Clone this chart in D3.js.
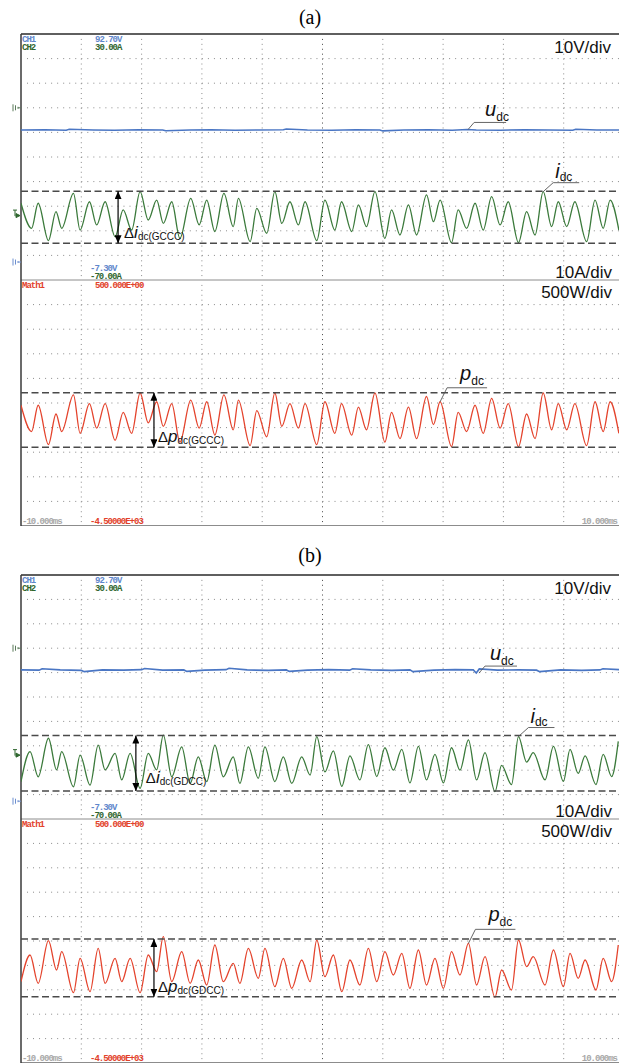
<!DOCTYPE html>
<html>
<head>
<meta charset="utf-8">
<script src="https://cdn.jsdelivr.net/npm/d3@7"></script>
<style>
body { margin: 0; background: #fff; }
svg { display: block; }
.scope { font-family: "Liberation Mono", "DejaVu Sans Mono", monospace; font-size: 9px; letter-spacing: -1px; font-weight: bold; }
.lbl { font-family: "Liberation Sans", Arial, sans-serif; }
</style>
</head>
<body>
<div id="chart"></div>
<script>
// screen ranges of the scope
var tDomain = [-10, 10];        // ms
var vDomain = [-7.3, 92.7];     // CH1, V
var iDomain = [-70, 30];        // CH2, A
var pDomain = [-4500, 500];     // Math1, W

var ch1Range = ["92.70V", "-7.30V"];
var ch2Range = ["30.00A", "-70.00A"];
var mathRange = ["500.000E+00", "-4.50000E+03"];
var timeRange = ["-10.000ms", "10.000ms"];
var divLabels = ["10V/div", "10A/div", "500W/div"];

// (a) GCCC : peaks / troughs
var timeA = [-10.00, -9.65, -9.43, -9.09, -8.84, -8.65, -8.26, -8.04, -7.73, -7.49, -7.21, -6.88, -6.61, -6.33, -6.05, -5.78, -5.50, -5.28, -5.00, -4.73, -4.37, -4.09, -3.84, -3.57, -3.27, -2.96, -2.79, -2.40, -2.18, -1.85, -1.58, -1.35, -1.08, -0.80, -0.58,
  -0.19, 0.08, 0.41, 0.63, 0.97, 1.19, 1.46, 1.74, 2.07, 2.29, 2.57, 2.85, 3.12, 3.45, 3.68, 3.90, 4.28, 4.50, 4.78, 5.06, 5.33, 5.61, 5.89, 6.16, 6.50, 6.77, 7.05, 7.32, 7.60, 7.82, 8.10, 8.37, 8.76, 9.04, 9.31, 9.54, 9.83];
var currentA = [-38.8, -49.0, -38.8, -54.0, -42.2, -49.0, -34.8, -49.7, -38.2, -47.6, -38.2, -52.4, -41.5, -49.7, -34.1, -45.6, -37.5, -47.0, -38.2, -53.1, -36.8, -47.6, -37.5, -50.3, -34.8, -48.3, -36.8, -54.4, -40.9, -51.0, -34.1, -47.0, -38.2, -47.6, -38.2,
  -54.0, -37.5, -49.7, -38.2, -50.3, -39.5, -48.3, -34.1, -53.1, -41.5, -51.7, -39.5, -51.7, -35.4, -46.3, -37.5, -54.8, -41.5, -49.0, -38.8, -49.7, -36.1, -47.6, -38.2, -54.8, -42.2, -51.7, -34.1, -48.3, -38.2, -48.3, -38.2, -54.4, -37.5, -49.0, -37.5, -49.7];
var powerA = [-2046, -2580, -2046, -2844, -2224, -2580, -1833, -2616, -2011, -2509, -2011, -2758, -2189, -2616, -1797, -2402, -1975, -2474, -2011, -2794, -1940, -2509, -1975, -2652, -1833, -2545, -1940, -2865, -2153, -2687, -1797, -2474, -2011, -2509, -2011,
  -2844, -1975, -2616, -2011, -2652, -2082, -2545, -1797, -2794, -2189, -2723, -2082, -2723, -1868, -2438, -1975, -2886, -2189, -2580, -2046, -2616, -1904, -2509, -2011, -2886, -2224, -2723, -1797, -2545, -2011, -2545, -2011, -2865, -1975, -2580, -1975, -2616];
var voltTimeA = [-10, -9.2, -8.5, -8.4, -7.6, -6.9, -6.1, -5.3, -5.2, -4.4, -3.7, -2.9, -2.1, -1.3, -1.2, -0.5, 0.3, 1.1, 1.9, 2.0, 2.7, 3.5, 4.3, 4.8, 5.1, 5.9, 6.7, 7.5, 8.3, 8.4, 9.1, 10];
var voltA = [53.7, 53.8, 53.6, 54.0, 53.7, 53.6, 53.8, 53.7, 53.4, 53.7, 53.8, 53.6, 53.7, 53.8, 54.1, 53.7, 53.6, 53.8, 53.7, 53.3, 53.7, 53.8, 53.6, 53.9, 53.7, 53.6, 53.8, 53.7, 53.6, 54.0, 53.7, 53.7];
var iBandA = [-33.9, -55.1];
var pBandA = [-1790, -2900];

// (b) GDCC
var timeB = [-10.00, -9.70, -9.43, -9.09, -8.82, -8.65, -8.26, -8.04, -7.71, -7.44, -7.21, -6.88, -6.66, -6.38, -6.05, -5.78, -5.50, -5.28, -5.00, -4.67, -4.39, -4.12, -3.84, -3.57, -3.29, -2.96, -2.74, -2.46, -2.13, -1.91, -1.58, -1.30, -1.02, -0.69, -0.41,
  -0.19, 0.08, 0.36, 0.64, 0.91, 1.24, 1.52, 1.80, 2.07, 2.35, 2.63, 2.90, 3.18, 3.45, 3.73, 4.01, 4.28, 4.56, 4.84, 5.11, 5.39, 5.72, 5.94, 6.27, 6.50, 6.77, 6.99, 7.38, 7.66, 7.99, 8.21, 8.48, 8.71, 9.07, 9.31, 9.59, 9.81];
var currentB = [-54.7, -42.4, -52.7, -36.9, -49.9, -42.4, -56.8, -43.8, -56.1, -39.7, -49.9, -43.1, -54.0, -43.1, -57.4, -43.1, -49.9, -35.6, -52.7, -40.4, -55.4, -44.5, -54.7, -39.7, -52.7, -44.5, -55.4, -40.4, -53.3, -40.4, -54.7, -44.5, -55.4, -44.5, -52.0,
  -36.2, -50.7, -42.1, -56.6, -44.1, -54.0, -39.5, -52.6, -40.8, -50.0, -41.5, -55.2, -40.2, -54.0, -43.5, -55.2, -40.8, -50.0, -37.6, -54.0, -42.8, -58.8, -48.0, -55.9, -36.2, -46.7, -42.8, -54.0, -40.2, -54.6, -41.5, -51.3, -44.1, -55.9, -43.5, -52.6, -38.2];
var powerB = [-2833, -2287, -2867, -1993, -2594, -2219, -3059, -2355, -3038, -2150, -2867, -2355, -2833, -2355, -3059, -2287, -2628, -1911, -2833, -2219, -2867, -2389, -2902, -2082, -2833, -2458, -2867, -2150, -2765, -2150, -2936, -2355, -2970, -2389, -2833,
  -1980, -2731, -2287, -3038, -2389, -2902, -2150, -2833, -2219, -2697, -2253, -2970, -2184, -2902, -2355, -2970, -2219, -2697, -2048, -2902, -2321, -3154, -2594, -3004, -1980, -2526, -2321, -2902, -2184, -2936, -2253, -2765, -2389, -3004, -2355, -2833, -2082];
var voltTimeB = [-10, -9.4, -9.3, -8.7, -8.0, -7.9, -7.3, -6.6, -6.0, -5.9, -5.3, -4.6, -4.5, -3.9, -3.2, -3.1, -2.5, -1.8, -1.2, -1.1, -0.5, 0.2, 0.9, 1.0, 1.6, 2.3, 2.9, 3.0, 3.7, 4.4, 5.0, 5.1, 5.2, 5.8, 6.5, 7.1, 7.2, 7.9, 8.6, 9.2, 9.3, 10];
var voltB = [53.8, 53.7, 54.3, 53.8, 53.6, 53.1, 53.8, 53.7, 53.9, 54.4, 53.7, 53.8, 53.2, 53.7, 53.9, 54.5, 53.8, 53.6, 53.8, 53.2, 53.7, 53.9, 53.7, 54.3, 53.8, 53.6, 53.8, 53.1, 53.7, 53.9, 53.8, 52.5, 54.2, 53.7, 53.8, 53.7, 53.1, 53.8, 53.6, 53.8, 54.3, 53.8];
var iBandB = [-35.8, -58.5];
var pBandB = [-1959, -3141];

var triggerLevel = -42.8;

var W = 619, H = 1063;
var svg = d3.select("#chart").append("svg").attr("width", W).attr("height", H);
svg.append("rect").attr("width", W).attr("height", H).attr("fill", "#fff");

var x = d3.scaleLinear().domain(tDomain).range([21, 624]);

var defs = svg.append("defs");
defs.append("marker")
    .attr("id", "head")
    .attr("markerUnits", "userSpaceOnUse")
    .attr("markerWidth", 8).attr("markerHeight", 7)
    .attr("refX", 8).attr("refY", 3.5)
    .attr("orient", "auto-start-reverse")
  .append("path").attr("d", "M0,0L8,3.5L0,7z").attr("fill", "#000");

drawPanel({
  id: "a", title: "(a)", titleY: 24, top: 34, sep: 280, bottom: 526,
  time: timeA, cur: currentA, pow: powerA, vt: voltTimeA, v: voltA,
  iBand: iBandA, pBand: pBandA, tag: "GCCC",
  uAt: 4.83, iAt: 7.32, pAt: 3.90, diAt: -6.78, dpAt: -5.59,
  diOff: [6, -5], dpOff: [4, -5], uTx: 11
});
drawPanel({
  id: "b", title: "(b)", titleY: 562, top: 575, sep: 819, bottom: 1063,
  time: timeB, cur: currentB, pow: powerB, vt: voltTimeB, v: voltB,
  iBand: iBandB, pBand: pBandB, tag: "GDCC",
  uAt: 5.19, iAt: 6.50, pAt: 4.84, diAt: -6.19, dpAt: -5.59,
  diOff: [10, -8], dpOff: [4, -5], uTx: 5
});

function drawPanel(P) {
  var yU = d3.scaleLinear().domain(vDomain).range([P.sep, P.top]);
  var yI = d3.scaleLinear().domain(iDomain).range([P.sep, P.top]);
  var yP = d3.scaleLinear().domain(pDomain).range([P.bottom, P.sep]);

  var g = svg.append("g");

  g.append("text").attr("x", 310).attr("y", P.titleY)
    .attr("text-anchor", "middle")
    .attr("font-family", "Liberation Serif, Times New Roman, serif")
    .attr("font-size", 20).text(P.title);

  // dotted graticule
  var xs = x.ticks(10).filter(function(d) { return d > tDomain[0]; });
  [[P.top, P.sep], [P.sep, P.bottom]].forEach(function(z) {
    var step = (z[1] - z[0]) / 50;
    g.append("g").selectAll("line").data(xs).enter().append("line")
      .attr("x1", function(d) { return x(d); }).attr("x2", function(d) { return x(d); })
      .attr("y1", z[0] + step).attr("y2", z[1])
      .attr("stroke", function(d) { return d === 0 ? "#444" : "#8a8a8a"; })
      .attr("stroke-width", 1)
      .attr("stroke-dasharray", "1," + (step - 1));
  });
  var hU = d3.range(1, 10).map(function(k) { return yU(vDomain[0] + 10 * k); });
  var hP = d3.range(1, 10).map(function(k) { return yP(pDomain[0] + 500 * k); });
  g.append("g").selectAll("line").data(hU.concat(hP)).enter().append("line")
    .attr("x1", x(tDomain[0]) + 6).attr("x2", W)
    .attr("y1", function(d) { return d; }).attr("y2", function(d) { return d; })
    .attr("stroke", "#8a8a8a")
    .attr("stroke-dasharray", "1," + ((x(-8) - x(-10)) / 10 - 1));

  // frame
  g.append("line").attr("x1", x(-10)).attr("x2", W).attr("y1", P.top).attr("y2", P.top)
    .attr("stroke", "#2a2a2a").attr("stroke-width", 1.5);
  g.append("line").attr("x1", x(-10)).attr("x2", W).attr("y1", P.sep).attr("y2", P.sep)
    .attr("stroke", "#8c8c8c").attr("stroke-width", 1);
  g.append("line").attr("x1", x(-10)).attr("x2", W).attr("y1", P.bottom - 0.5).attr("y2", P.bottom - 0.5)
    .attr("stroke", "#8c8c8c").attr("stroke-width", 1);
  g.append("line").attr("x1", x(-10)).attr("x2", x(-10)).attr("y1", P.top).attr("y2", P.bottom)
    .attr("stroke", "#3a3a3a").attr("stroke-width", 1.5);

  // readouts
  var ro = g.append("g").attr("class", "scope");
  ro.append("text").attr("x", 22).attr("y", P.top + 8).attr("fill", "#5f87cc").text("CH1");
  ro.append("text").attr("x", 22).attr("y", P.top + 16).attr("fill", "#2f662f").text("CH2");
  ro.append("text").attr("x", 95).attr("y", P.top + 8).attr("fill", "#5f87cc").text(ch1Range[0]);
  ro.append("text").attr("x", 95).attr("y", P.top + 16).attr("fill", "#2f662f").text(ch2Range[0]);
  ro.append("text").attr("x", 90).attr("y", P.sep - 9).attr("fill", "#5f87cc").text(ch1Range[1]);
  ro.append("text").attr("x", 90).attr("y", P.sep - 1).attr("fill", "#2f662f").text(ch2Range[1]);
  ro.append("text").attr("x", 22).attr("y", P.sep + 8).attr("fill", "#e2412b").text("Math1");
  ro.append("text").attr("x", 95).attr("y", P.sep + 8).attr("fill", "#e2412b").text(mathRange[0]);
  ro.append("text").attr("x", 22).attr("y", P.bottom - 2).attr("fill", "#a8a8a8").text(timeRange[0]);
  ro.append("text").attr("x", 90).attr("y", P.bottom - 2).attr("fill", "#e2412b").text(mathRange[1]);
  ro.append("text").attr("x", 617).attr("y", P.bottom - 2).attr("text-anchor", "end").attr("fill", "#a8a8a8").text(timeRange[1]);

  // level markers left of the screen
  var gy = yI(0), vy = yU(0), ty = yI(triggerLevel);
  g.append("path").attr("d", "M13," + (gy - 3.5) + "V" + (gy + 3.5) + "M15.5," + (gy - 2.5) + "V" + (gy + 2.5) + "M18," + (gy - 1) + "V" + (gy + 1) + "M18," + gy + "H21")
    .attr("stroke", "#5a7a5a").attr("fill", "none");
  g.append("path").attr("d", "M13," + (vy - 3.5) + "V" + (vy + 3.5) + "M15.5," + (vy - 2.5) + "V" + (vy + 2.5) + "M18," + (vy - 1) + "V" + (vy + 1) + "M18," + vy + "H21")
    .attr("stroke", "#6d8fcf").attr("fill", "none");
  g.append("path").attr("d", "M13," + (ty - 3) + "H17M15," + (ty - 3) + "V" + (ty + 3) + "M16," + (ty + 0.5) + "L20," + (ty + 2.5) + "L16," + (ty + 4.5) + "z")
    .attr("stroke", "#2f662f").attr("fill", "#2f662f").attr("stroke-width", 1);

  // traces
  var clipId = "clip-" + P.id;
  defs.append("clipPath").attr("id", clipId).append("rect")
    .attr("x", x(-10)).attr("y", P.top).attr("width", x(10) - x(-10)).attr("height", P.bottom - P.top);
  var tr = g.append("g").attr("clip-path", "url(#" + clipId + ")");

  var uData = P.vt.map(function(t, k) { return [t, P.v[k]]; });
  var iData = P.time.map(function(t, k) { return [t, P.cur[k]]; });
  var pData = P.time.map(function(t, k) { return [t, P.pow[k]]; });

  tr.append("path").datum(uData)
    .attr("d", d3.line().x(function(d) { return x(d[0]); }).y(function(d) { return yU(d[1]); }))
    .attr("fill", "none").attr("stroke", "#4a76c4").attr("stroke-width", 1.6);
  tr.append("path").datum(iData)
    .attr("d", d3.line().curve(d3.curveMonotoneX).x(function(d) { return x(d[0]); }).y(function(d) { return yI(d[1]); }))
    .attr("fill", "none").attr("stroke", "#3b7a3b").attr("stroke-width", 1.3);
  tr.append("path").datum(pData)
    .attr("d", d3.line().curve(d3.curveMonotoneX).x(function(d) { return x(d[0]); }).y(function(d) { return yP(d[1]); }))
    .attr("fill", "none").attr("stroke", "#e4432c").attr("stroke-width", 1.3);

  // ripple bands
  var bands = [yI(P.iBand[0]), yI(P.iBand[1]), yP(P.pBand[0]), yP(P.pBand[1])];
  g.append("g").selectAll("line").data(bands).enter().append("line")
    .attr("x1", x(-10)).attr("x2", W)
    .attr("y1", function(d) { return d; }).attr("y2", function(d) { return d; })
    .attr("stroke", "#4a4a4a").attr("stroke-width", 1.5)
    .attr("stroke-dasharray", "7,3.5");

  // double arrows + delta labels
  deltaLabel(g, x(P.diAt), bands[0], bands[1], P.diOff, "i", P.tag);
  deltaLabel(g, x(P.dpAt), bands[2], bands[3], P.dpOff, "p", P.tag);

  // trace names
  var ku = P.vt.indexOf(P.vt.filter(function(t) { return t <= P.uAt; }).pop());
  var ki = P.time.indexOf(P.iAt), kp = P.time.indexOf(P.pAt);
  traceLabel(g, x(P.uAt), yU(P.v[ku]), [6, -7], 32, [P.uTx, -6, -1], "u");
  traceLabel(g, x(P.iAt), yI(P.cur[ki]), [10, -9], 26, [2, -5, -2], "i");
  traceLabel(g, x(P.pAt), yP(P.pow[kp]), [7, -14], 40, [13, -8, -3], "p");

  // volts/amps/watts per division
  var dl = g.append("g").attr("class", "lbl").attr("font-size", 17).attr("text-anchor", "end").attr("fill", "#111");
  dl.append("text").attr("x", 611).attr("y", P.top + 19).text(divLabels[0]);
  dl.append("text").attr("x", 612).attr("y", P.sep - 2).text(divLabels[1]);
  dl.append("text").attr("x", 612).attr("y", P.sep + 18).text(divLabels[2]);
}

function deltaLabel(g, ax, y0, y1, off, letter, tag) {
  g.append("line").attr("x1", ax).attr("x2", ax).attr("y1", y0).attr("y2", y1)
    .attr("stroke", "#000").attr("stroke-width", 1.2)
    .attr("marker-start", "url(#head)").attr("marker-end", "url(#head)");
  var t = g.append("text").attr("class", "lbl").attr("x", ax + off[0]).attr("y", y1 + off[1]).attr("fill", "#111");
  t.append("tspan").attr("font-size", 15).text("\u0394");
  t.append("tspan").attr("font-size", 17).attr("font-style", "italic").text(letter);
  t.append("tspan").attr("font-size", 10).attr("dy", 2).text("dc(" + tag + ")");
}

function traceLabel(g, ax, ay, knee, len, txt, letter) {
  var kx = ax + knee[0], ky = ay + knee[1];
  g.append("path").attr("d", "M" + ax + "," + ay + "L" + kx + "," + ky + "H" + (kx + len))
    .attr("fill", "none").attr("stroke", "#555").attr("stroke-width", 0.9);
  var t = g.append("text").attr("class", "lbl").attr("x", kx + txt[0]).attr("y", ky + txt[1]).attr("fill", "#111");
  t.append("tspan").attr("font-size", 20).attr("font-style", "italic").text(letter);
  t.append("tspan").attr("font-size", 12).attr("dy", txt[2] - txt[1]).text("dc");
}
</script>
</body>
</html>
